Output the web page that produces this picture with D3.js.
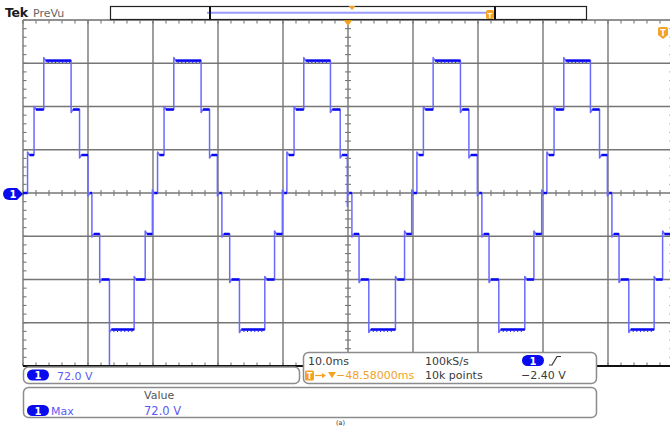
<!DOCTYPE html>
<html>
<head>
<meta charset="utf-8">
<script src="https://cdn.jsdelivr.net/npm/d3@7"></script>
<style>
  html, body { margin: 0; padding: 0; background: #fff; }
  svg { display: block; }
  text { font-family: "DejaVu Sans", sans-serif; }
</style>
</head>
<body>
<svg id="scope" width="670" height="426"></svg>
<script>
// ---- Channel 1 : seven-level staircase output ----
// Plateau voltages (V); index 0..6 stands for step -3..+3
const levelVolts = [-72.6, -46.0, -21.8, 0, 20.2, 44.4, 70.4];
// Short overshoot at the start of every plateau (V)
const ringVolts = 1.6;

// Switching instants (ms from the left edge of the record) and the step reached
const edgeTimes = [
   0.7,  1.7,  3.2,  7.4,  8.7, 10.0, 10.6, 11.8, 13.3, 17.1, 18.8, 19.9,
  20.7, 21.7, 23.2, 27.4, 28.7, 29.9, 30.6, 31.8, 33.3, 37.2, 38.7, 39.9,
  40.6, 41.7, 43.2, 47.3, 48.8, 49.9, 50.6, 51.7, 53.2, 57.3, 58.7, 59.8,
  60.6, 61.6, 63.1, 67.3, 68.6, 69.9, 70.6, 71.7, 73.2, 77.2, 78.6, 79.8,
  80.6, 81.7, 83.2, 87.3, 88.7, 89.9, 90.6, 91.7, 93.2, 97.1, 98.4, 99.9
];
const edgeSteps = [
  1, 2, 3, 2, 1, 0, -1, -2, -3, -2, -1, 0,
  1, 2, 3, 2, 1, 0, -1, -2, -3, -2, -1, 0,
  1, 2, 3, 2, 1, 0, -1, -2, -3, -2, -1, 0,
  1, 2, 3, 2, 1, 0, -1, -2, -3, -2, -1, 0,
  1, 2, 3, 2, 1, 0, -1, -2, -3, -2, -1, 0
];
// Isolated glitches on a switching edge
const glitchTimes = [13.3, 49.9];
const glitchVolts = [-95, -7];

// ---- Acquisition settings / readouts ----
const timePerDiv = 10;      // ms/div
const voltsPerDiv = 23;     // V/div
const xDivs = 10, yDivs = 8;
const minorPerDiv = 5;
const readoutTime = ["10.0ms", "−48.58000ms"];
const readoutAcq = ["100kS/s", "10k points"];
const triggerLevel = "−2.40 V";
const measureHeader = "Value";
const measureName = "Max";

// ---- Scales ----
const plot = { left: 23, top: 20, width: 650, height: 346 };
const x = d3.scaleLinear()
  .domain([0, xDivs * timePerDiv])
  .range([plot.left, plot.left + plot.width]);
const y = d3.scaleLinear()
  .domain([-yDivs / 2 * voltsPerDiv, yDivs / 2 * voltsPerDiv])
  .range([plot.top + plot.height, plot.top]);

const svg = d3.select("#scope");
svg.append("rect").attr("width", 670).attr("height", 426).attr("fill", "#fff");

const gridColor = "#767676";
const grid = svg.append("g");

// Major graticule lines
const xMajor = d3.range(0, xDivs * timePerDiv + 0.001, timePerDiv);
const yMajor = d3.range(-yDivs / 2 * voltsPerDiv, yDivs / 2 * voltsPerDiv + 0.001, voltsPerDiv);
grid.selectAll(".vx").data(xMajor).join("line")
  .attr("x1", d => x(d)).attr("x2", d => x(d))
  .attr("y1", y.range()[1]).attr("y2", y.range()[0])
  .attr("stroke", gridColor).attr("stroke-width", 1.4);
grid.selectAll(".hy").data(yMajor.slice(1)).join("line")
  .attr("x1", x.range()[0]).attr("x2", x.range()[1])
  .attr("y1", d => y(d)).attr("y2", d => y(d))
  .attr("stroke", gridColor).attr("stroke-width", 1.4);

// Minor ticks on the centre cross and along the edges
const xMinor = d3.range(0, xDivs * timePerDiv + 0.001, timePerDiv / minorPerDiv);
const yMinor = d3.range(-yDivs / 2 * voltsPerDiv, yDivs / 2 * voltsPerDiv + 0.001, voltsPerDiv / minorPerDiv);
const tickLen = 3;
const xTickRows = [
  { y0: y(0) - tickLen, y1: y(0) + tickLen },
  { y0: y.range()[1], y1: y.range()[1] + tickLen + 0.5 },
  { y0: y.range()[0] - tickLen - 0.5, y1: y.range()[0] }
];
xTickRows.forEach(r => {
  grid.append("g").selectAll("line").data(xMinor).join("line")
    .attr("x1", d => x(d)).attr("x2", d => x(d))
    .attr("y1", r.y0).attr("y2", r.y1)
    .attr("stroke", gridColor).attr("stroke-width", 1.1);
});
const yTickCols = [
  { x0: x(50) - tickLen, x1: x(50) + tickLen },
  { x0: x.range()[0], x1: x.range()[0] + tickLen + 0.5 },
  { x0: x.range()[1] - tickLen - 0.5, x1: x.range()[1] }
];
yTickCols.forEach(c => {
  grid.append("g").selectAll("line").data(yMinor).join("line")
    .attr("x1", c.x0).attr("x2", c.x1)
    .attr("y1", d => y(d)).attr("y2", d => y(d))
    .attr("stroke", gridColor).attr("stroke-width", 1.1);
});

// Top edge of the graticule
grid.append("line")
  .attr("x1", x.range()[0]).attr("x2", 670)
  .attr("y1", y.range()[1]).attr("y2", y.range()[1])
  .attr("stroke", "#8a8a8a").attr("stroke-width", 1.2);

// ---- Waveform ----
const pts = [[0, levelVolts[3]]];
const plateaus = [];
let cur = 0, start = 0;
edgeTimes.forEach((t, i) => {
  const nxt = edgeSteps[i];
  plateaus.push({ t0: start, t1: t, step: cur });
  pts.push([t, levelVolts[cur + 3]]);
  const g = glitchTimes.indexOf(t);
  if (g >= 0) pts.push([t, glitchVolts[g]]);
  const dir = Math.sign(nxt - cur);
  pts.push([t, levelVolts[nxt + 3] + dir * ringVolts]);
  pts.push([t + 0.3, levelVolts[nxt + 3]]);
  cur = nxt;
  start = t + 0.3;
});
pts.push([xDivs * timePerDiv, levelVolts[cur + 3]]);
plateaus.push({ t0: start, t1: xDivs * timePerDiv, step: cur });

svg.append("clipPath").attr("id", "plotClip")
  .append("rect")
  .attr("x", plot.left).attr("y", plot.top)
  .attr("width", plot.width).attr("height", plot.height);

const trace = svg.append("g").attr("clip-path", "url(#plotClip)");
const line = d3.line().x(d => x(d[0])).y(d => y(d[1]));

trace.append("path")
  .attr("d", line(pts))
  .attr("fill", "none")
  .attr("stroke", "#6a6aff")
  .attr("stroke-width", 1.5)
  .attr("stroke-linejoin", "round");

trace.selectAll(".plateau").data(plateaus).join("line")
  .attr("x1", d => x(d.t0)).attr("x2", d => x(d.t1))
  .attr("y1", d => y(levelVolts[d.step + 3])).attr("y2", d => y(levelVolts[d.step + 3]))
  .attr("stroke", "#0808f2").attr("stroke-width", 2.5);

// ripple on the outer plateaus
trace.selectAll(".ripple").data(plateaus.filter(d => Math.abs(d.step) === 3)).join("line")
  .attr("x1", d => x(d.t0) + 2).attr("x2", d => x(d.t1) - 1)
  .attr("y1", d => y(levelVolts[d.step + 3]) + 1.8).attr("y2", d => y(levelVolts[d.step + 3]) + 1.8)
  .attr("stroke", "#2020f4").attr("stroke-width", 1.2)
  .attr("stroke-dasharray", "1,2.6");

// Bottom edge of the graticule
svg.append("line")
  .attr("x1", x.range()[0]).attr("x2", 670)
  .attr("y1", y.range()[0]).attr("y2", y.range()[0])
  .attr("stroke", "#111").attr("stroke-width", 2);

// ---- Markers ----
const blue = "#0a0aee";
const orange = "#f3a225";
const valueBlue = "#5a5af2";
const textGrey = "#3a3a3a";

// channel 1 ground reference
const gy = y(0) + 1;
svg.append("path")
  .attr("d", `M9,${gy - 6} H17 L23,${gy} L17,${gy + 6} H9 A6,6 0 0 1 9,${gy - 6} Z`)
  .attr("fill", blue);
svg.append("text").attr("x", 13).attr("y", gy + 4)
  .attr("text-anchor", "middle").attr("font-size", 10).attr("font-weight", "bold")
  .attr("fill", "#fff").text("1");

// trigger position
const tx = x(50);
svg.append("path")
  .attr("d", `M${tx - 4.5},${plot.top} H${tx + 4.5} L${tx},${plot.top + 6} Z`)
  .attr("fill", orange);

// trigger level (off the top of the screen)
svg.append("path")
  .attr("d", "M658,29 A2,2 0 0 1 660,27 H666 A2,2 0 0 1 668,29 V35 L663,39 L658,35 Z")
  .attr("fill", orange);
svg.append("text").attr("x", 663).attr("y", 35.5)
  .attr("text-anchor", "middle").attr("font-size", 8).attr("font-weight", "bold")
  .attr("fill", "#fff").text("T");

// ---- Header ----
svg.append("text").attr("x", 5).attr("y", 17)
  .attr("font-size", 12.5).attr("font-weight", "bold").attr("fill", "#1a1a1a")
  .attr("letter-spacing", -0.3).text("Tek");
svg.append("text").attr("x", 33).attr("y", 17)
  .attr("font-size", 11).attr("fill", "#666").text("PreVu");

// record view bar
svg.append("rect").attr("x", 110.5).attr("y", 6.5).attr("width", 476).attr("height", 13)
  .attr("fill", "#fff").attr("stroke", "#222").attr("stroke-width", 1.2);
svg.append("line").attr("x1", 207).attr("x2", 491).attr("y1", 12.7).attr("y2", 12.7)
  .attr("stroke", "#9a9aff").attr("stroke-width", 2);
[210, 495].forEach(bx => {
  svg.append("line").attr("x1", bx).attr("x2", bx).attr("y1", 6.5).attr("y2", 19.5)
    .attr("stroke", "#111").attr("stroke-width", 2);
});
svg.append("path").attr("d", "M348.5,6 H355.5 L352,10 Z").attr("fill", orange);
svg.append("rect").attr("x", 486).attr("y", 10).attr("width", 8).attr("height", 9).attr("rx", 2)
  .attr("fill", orange);
svg.append("text").attr("x", 490).attr("y", 17.5).attr("text-anchor", "middle")
  .attr("font-size", 7).attr("font-weight", "bold").attr("fill", "#fff").text("T");

// ---- Readout boxes ----
function box(bx, by, bw, bh) {
  svg.append("rect").attr("x", bx).attr("y", by).attr("width", bw).attr("height", bh)
    .attr("rx", 5).attr("fill", "#fff").attr("stroke", "#8c8c8c").attr("stroke-width", 1.5);
}
function pill(px, py) {
  svg.append("rect").attr("x", px).attr("y", py).attr("width", 22).attr("height", 11)
    .attr("rx", 5.5).attr("fill", blue);
  svg.append("text").attr("x", px + 11).attr("y", py + 9.5).attr("text-anchor", "middle")
    .attr("font-size", 10).attr("font-weight", "bold").attr("fill", "#fff").text("1");
}
function label(tx0, ty0, str, color, size) {
  svg.append("text").attr("x", tx0).attr("y", ty0)
    .attr("font-size", size || 11).attr("fill", color).text(str);
}

const maxVolts = d3.max(pts, d => d[1]);
const maxText = d3.format(".1f")(maxVolts) + " V";

// channel scale / max readout box
box(23.5, 367, 276, 16.5);
pill(27, 369.5);
label(57, 380, maxText, valueBlue, 11);

// timebase / trigger box
box(303.5, 352.5, 293, 31);
label(308, 364.5, readoutTime[0], textGrey);
label(425, 364.5, readoutAcq[0], textGrey);
pill(522, 355);
svg.append("path").attr("d", "M549,365 H552 L557,356.5 H561")
  .attr("fill", "none").attr("stroke", "#333").attr("stroke-width", 1.2);
svg.append("rect").attr("x", 305).attr("y", 370.5).attr("width", 9).attr("height", 10).attr("rx", 1.5)
  .attr("fill", orange);
svg.append("text").attr("x", 309.5).attr("y", 378.5).attr("text-anchor", "middle")
  .attr("font-size", 8).attr("font-weight", "bold").attr("fill", "#fff").text("T");
svg.append("line").attr("x1", 315).attr("x2", 323).attr("y1", 375.5).attr("y2", 375.5)
  .attr("stroke", orange).attr("stroke-width", 1.3);
svg.append("path").attr("d", "M322,373 L326,375.5 L322,378 Z").attr("fill", orange);
svg.append("path").attr("d", "M328,372 H336 L332,378 Z").attr("fill", orange);
label(336, 379, readoutTime[1], orange);
label(425, 379, readoutAcq[1], textGrey);
label(521, 379, triggerLevel, textGrey);

// measurement box
box(23.5, 387.5, 573, 30);
label(144, 398.5, measureHeader, "#555");
pill(27, 405);
label(51, 415, measureName, valueBlue);
label(144, 415, maxText, valueBlue, 11.5);

// caption below the screen
label(336, 424.5, "(a)", "#333", 6.5);
</script>
</body>
</html>
